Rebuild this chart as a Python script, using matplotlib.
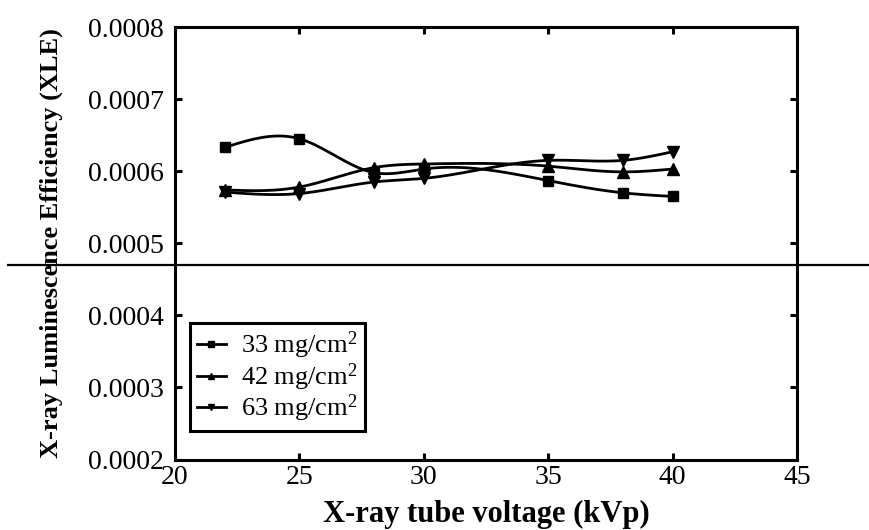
import numpy as np
import matplotlib
matplotlib.use("Agg")
import matplotlib.pyplot as plt

# x-ray tube voltage (kVp)
kvp = [22, 25, 28, 30, 35, 38, 40]

# XLE for each screen coating thickness
xle_33 = [0.000633, 0.000645, 0.000598, 0.000603, 0.000587, 0.000570, 0.000565]
xle_42 = [0.000574, 0.000578, 0.000605, 0.000610, 0.000607, 0.000599, 0.000603]
xle_63 = [0.000571, 0.000569, 0.000585, 0.000590, 0.000615, 0.000615, 0.000627]

labels = ["33 mg/cm$^2$", "42 mg/cm$^2$", "63 mg/cm$^2$"]
markers = ["s", "^", "v"]

# stray horizontal rule that crosses the whole figure
rule_y = 0.00047


def smooth_curve(x, y, n=200):
    # natural cubic spline, only used to draw the smoothed line
    x = np.asarray(x, float)
    y = np.asarray(y, float)
    m = len(x)
    h = np.diff(x)
    A = np.zeros((m, m))
    b = np.zeros(m)
    A[0, 0] = 1
    A[-1, -1] = 1
    for i in range(1, m - 1):
        A[i, i - 1] = h[i - 1]
        A[i, i] = 2 * (h[i - 1] + h[i])
        A[i, i + 1] = h[i]
        b[i] = 6 * ((y[i + 1] - y[i]) / h[i] - (y[i] - y[i - 1]) / h[i - 1])
    M = np.linalg.solve(A, b)
    xs = np.linspace(x[0], x[-1], n)
    idx = np.clip(np.searchsorted(x, xs) - 1, 0, m - 2)
    x0, x1 = x[idx], x[idx + 1]
    hh = x1 - x0
    t0 = x1 - xs
    t1 = xs - x0
    ys = (M[idx] * t0**3 + M[idx + 1] * t1**3) / (6 * hh) \
        + (y[idx] / hh - M[idx] * hh / 6) * t0 \
        + (y[idx + 1] / hh - M[idx + 1] * hh / 6) * t1
    return xs, ys


plt.rcParams['font.family'] = ['Liberation Serif', 'DejaVu Serif']
plt.rcParams['mathtext.fontset'] = 'custom'
plt.rcParams['mathtext.rm'] = 'Liberation Serif'
plt.rcParams['mathtext.it'] = 'Liberation Serif:italic'

fig = plt.figure(figsize=(8.69, 5.30), dpi=100)
ax = fig.add_axes([0.2014, 0.133, 0.7157, 0.816])

sizes = [7, 8, 8]
for series, lab, mk, ms in zip([xle_33, xle_42, xle_63], labels, markers, sizes):
    xs, ys = smooth_curve(kvp, series)
    ax.plot(xs, ys, color='black', lw=2.0)
    ax.plot(kvp, series, ls='none', marker=mk, color='black', ms=ms)
    # legend proxy
    ax.plot([], [], color='black', lw=2.0, marker=mk, ms=5, label=lab)

ax.set_xlim(20, 45)
ax.set_ylim(0.0002, 0.0008)
ax.set_xticks([20, 25, 30, 35, 40, 45])
ax.set_yticks([0.0002, 0.0003, 0.0004, 0.0005, 0.0006, 0.0007, 0.0008])
ax.set_yticklabels(["0.0002", "0.0003", "0.0004", "0.0005", "0.0006", "0.0007", "0.0008"])

for sp in ax.spines.values():
    sp.set_linewidth(2.2)
ax.tick_params(direction='in', length=5, width=2.2, top=True, right=True,
               labelsize=20)
ax.tick_params(axis='x', pad=4)
ax.tick_params(axis='y', pad=8)

ax.set_xlabel("X-ray tube voltage (kVp)", fontsize=22, fontweight='bold')
ax.xaxis.set_label_coords(0.5, -0.093)
ax.set_ylabel("X-ray Luminescence Efficiency (XLE)", fontsize=19, fontweight='bold')
ax.yaxis.set_label_coords(-0.18, 0.5)

ax.axhline(rule_y, xmin=-0.268, xmax=1.2, color='black', lw=1.6, clip_on=False)

leg = ax.legend(loc='lower left', bbox_to_anchor=(0.024, 0.066), borderaxespad=0,
                fancybox=False, edgecolor='black', fontsize=19, handlelength=1.1,
                handletextpad=0.6, labelspacing=0.0, borderpad=0.25, framealpha=1)
leg.get_frame().set_linewidth(2.2)

fig.savefig("out.png", dpi=100)
